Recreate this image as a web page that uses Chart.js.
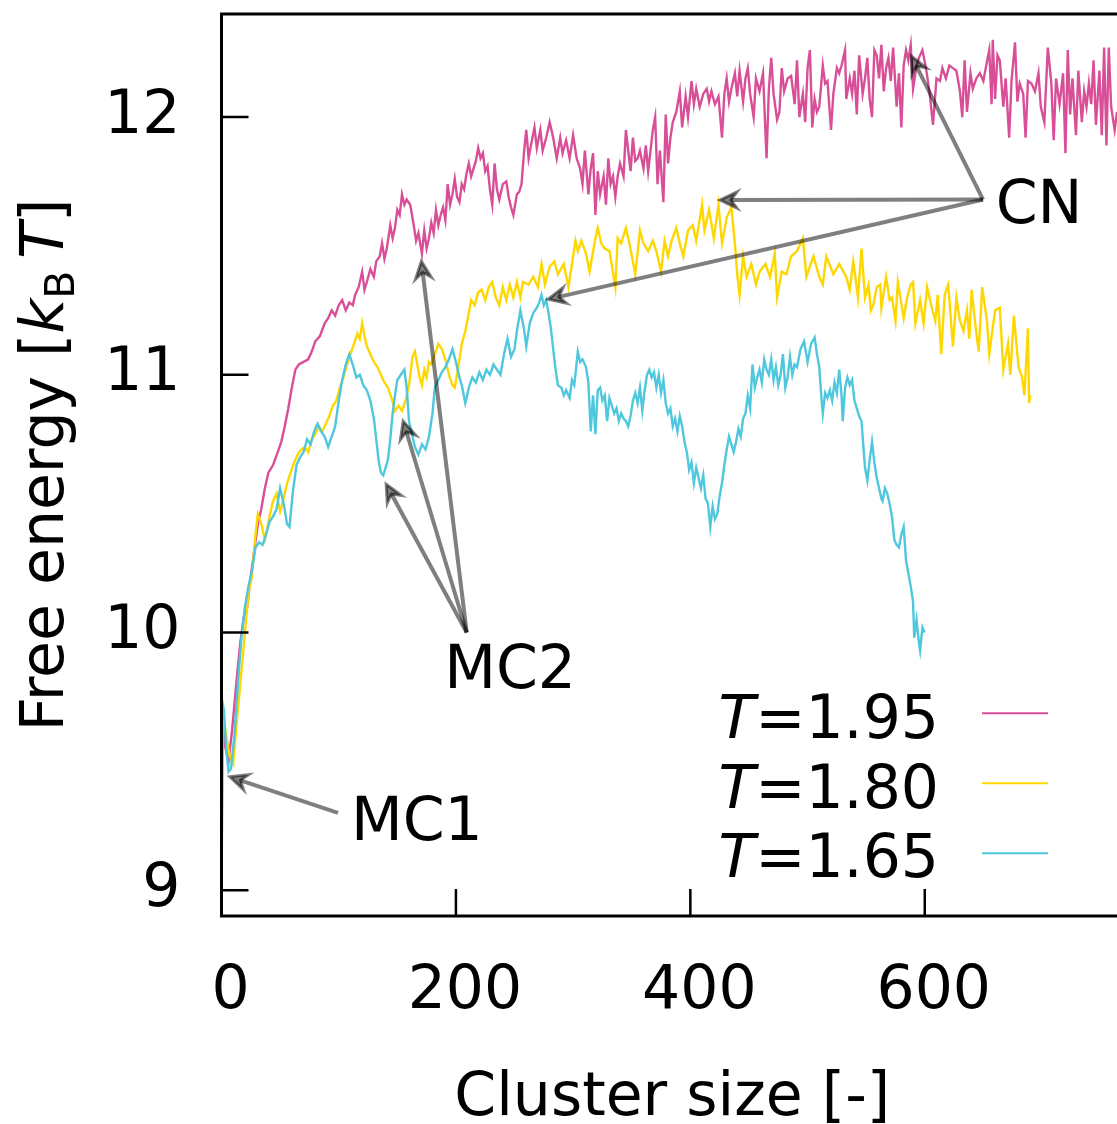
<!DOCTYPE html>
<html><head><meta charset="utf-8">
<script src="https://cdn.jsdelivr.net/npm/chart.js@4/dist/chart.umd.min.js"></script>
<style>html,body{margin:0;padding:0;background:#fff;}canvas{display:block;}</style>
</head><body>
<canvas id="c" width="1117" height="1124"></canvas>
<script>
// ---- data ----
const temperatures = ['1.95', '1.80', '1.65'];
const xTickValues = [0, 200, 400, 600];
const yTickValues = [9, 10, 11, 12];
const xTitle = 'Cluster size [-]';

const pinkX = [0,1,3,6,9,13,16,19,22,25,28,31,34,37,40,44,48,51,54,57,60,63,66,70,74,77,80,84,88,91,94,97,100,103,106,109,112,114,117,120,122,124,127,130,132,135,137,139,141,144,146,148,150,152,154,156,158,161,164,166,168,171,173,175,177,179,181,183,185,187,189,191,193,195,197,199,201,203,205,207,209,211,213,215,217,219,221,223,225,227,229,231,233,235,237,
240,243,245,247,249,252,254,256,258,260,262,264,267,269,272,274,277,280,283,286,289,291,294,297,300,303,306,308,310,313,315,317,319,321,323,326,328,330,332,334,336,338,340,343,345,347,349,351,353,355,357,360,362,364,366,368,370,372,374,377,379,381,383,385,388,391,393,396,398,401,403,405,408,411,414,416,418,421,424,427,429,431,433,435,438,440,442,445,447,449,451,454,456,459,462,465,467,469,471,474,
476,478,480,483,486,489,491,493,496,498,500,502,504,506,508,510,513,515,517,520,522,525,527,529,532,533,536,538,540,542,544,547,549,551,553,555,557,559,561,563,565,567,569,571,573,576,578,580,582,584,586,588,590,593,595,598,601,604,607,610,613,615,618,621,624,627,630,632,634,636,639,641,644,647,650,652,655,657,658,660,662,664,667,669,672,674,677,679,681,684,686,688,691,694,697,699,702,705,708,710,712,715,718,720,722,724,726,729,731,734,736,738,740,742,744,746,749,751,753,755,757,759,762,764];
const pinkY = [8.98,9.65,9.56,9.50,9.62,9.82,9.96,10.06,10.10,10.22,10.32,10.42,10.48,10.56,10.62,10.65,10.70,10.74,10.80,10.87,10.95,11.02,11.04,11.05,11.06,11.09,11.13,11.15,11.20,11.22,11.25,11.23,11.27,11.29,11.25,11.28,11.27,11.31,11.34,11.40,11.33,11.36,11.41,11.38,11.44,11.46,11.51,11.45,11.49,11.58,11.53,11.57,11.64,11.62,11.70,11.66,11.68,11.66,11.58,11.52,11.55,11.47,11.56,11.49,11.53,11.59,11.55,11.64,11.58,11.62,11.65,11.60,11.74,11.66,11.70,11.76,11.69,11.67,11.74,11.72,11.78,11.82,11.77,11.80,11.83,11.88,11.84,11.86,11.79,11.81,11.72,11.66,11.82,11.72,11.68,
11.74,11.75,11.69,11.65,11.62,11.70,11.71,11.74,11.86,11.95,11.84,11.89,11.96,11.88,11.95,11.87,11.92,11.98,11.92,11.84,11.92,11.86,11.91,11.84,11.93,11.84,11.80,11.74,11.87,11.70,11.80,11.86,11.62,11.79,11.70,11.77,11.66,11.84,11.74,11.77,11.69,11.77,11.82,11.77,11.95,11.87,11.79,11.92,11.83,11.84,11.87,11.80,11.89,11.79,11.87,11.95,12.00,11.74,11.87,11.67,12.01,11.82,11.92,11.98,12.02,12.10,11.96,12.08,12.00,12.14,12.05,12.11,12.04,12.09,12.11,12.06,12.10,12.05,12.08,11.92,12.09,12.15,12.06,12.11,12.17,12.08,12.18,12.06,12.15,12.19,12.09,12.00,12.15,12.10,12.17,11.84,12.11,12.23,12.09,11.99,
12.02,12.19,12.10,12.15,12.16,12.05,12.22,12.00,12.09,11.98,12.19,12.26,11.96,12.07,12.02,12.04,12.20,12.13,12.14,11.95,12.09,12.19,12.17,12.20,12.26,12.07,12.15,12.09,12.18,12.01,12.24,12.09,12.15,12.23,12.07,12.00,12.26,12.24,12.15,12.28,12.10,12.19,12.23,12.14,12.27,12.04,12.17,11.96,12.20,12.26,12.22,12.28,12.11,12.20,12.23,12.26,12.19,12.10,11.97,12.15,12.14,12.19,12.15,12.20,12.19,12.18,12.10,12.00,12.22,12.02,12.17,12.11,12.15,12.17,12.14,12.19,12.26,12.05,12.30,12.07,12.24,12.22,12.04,12.15,11.92,12.14,12.29,12.06,12.13,12.09,11.92,12.14,12.13,12.10,12.17,12.04,11.98,12.27,12.13,11.91,12.15,12.05,12.17,11.86,12.26,12.01,12.15,11.93,12.18,11.98,12.10,12.04,12.13,12.05,12.22,11.97,12.18,11.93,12.27,11.89,12.27,12.04,11.95,12.02];

const yellowX = [0,1,4,7,10,13,17,20,23,26,29,31,34,37,41,44,47,50,53,56,59,62,65,68,71,74,77,80,83,86,89,92,95,98,101,104,107,110,113,116,118,120,122,124,127,130,133,136,139,142,145,148,151,154,157,160,163,165,167,169,171,173,175,177,179,182,185,188,191,194,197,199,202,205,208,211,213,216,219,222,225,228,231,234,237,
240,243,246,249,252,255,257,262,266,270,273,276,280,284,287,292,296,299,302,304,307,311,314,319,321,324,327,331,336,338,341,345,348,353,357,360,364,368,371,375,378,381,384,388,391,394,398,402,405,410,412,416,420,424,427,431,435,438,440,442,445,448,452,456,459,464,468,472,474,478,482,486,491,496,499,505,510,513,516,522,527,533,536,539,543,546,549,552,554,556,559,562,563,567,570,572,575,577,582,585,588,590,592,596,599,602,606,609,611,614,617,620,624,627,630,633,636,638,640,643,646,649,653,655,660,664,667,671,673,676,680,683,685,688,689,690];
const yellowY = [9.15,9.70,9.60,9.52,9.49,9.65,9.85,10.00,10.15,10.22,10.38,10.46,10.42,10.36,10.45,10.51,10.54,10.47,10.52,10.58,10.62,10.66,10.69,10.71,10.72,10.70,10.75,10.77,10.80,10.78,10.81,10.84,10.88,10.90,10.95,10.99,11.04,11.08,11.12,11.16,11.14,11.20,11.15,11.11,11.08,11.05,11.03,11.00,10.97,10.95,10.91,10.86,10.88,10.86,10.90,10.96,11.07,11.09,11.04,10.99,10.96,11.02,10.99,11.05,11.04,11.08,11.12,11.10,11.06,11.00,10.96,10.95,11.03,11.12,11.17,11.24,11.29,11.27,11.32,11.33,11.29,11.34,11.36,11.30,11.27,
11.34,11.29,11.35,11.30,11.36,11.30,11.36,11.35,11.38,11.34,11.43,11.35,11.42,11.44,11.39,11.43,11.34,11.43,11.52,11.48,11.52,11.47,11.40,11.53,11.57,11.51,11.49,11.48,11.34,11.53,11.51,11.57,11.51,11.39,11.56,11.51,11.48,11.52,11.48,11.40,11.52,11.46,11.52,11.57,11.51,11.46,11.56,11.58,11.52,11.66,11.56,11.64,11.53,11.66,11.51,11.61,11.65,11.51,11.39,11.31,11.46,11.38,11.43,11.35,11.40,11.43,11.38,11.47,11.30,11.40,11.39,11.46,11.48,11.53,11.38,11.46,11.38,11.35,11.46,11.39,11.43,11.38,11.33,11.44,11.30,11.49,11.30,11.35,11.25,11.27,11.34,11.35,11.26,11.38,11.29,11.30,11.21,11.36,11.22,11.30,11.35,11.36,11.20,11.29,11.20,11.34,11.26,11.21,11.31,11.08,11.31,11.35,11.11,11.30,11.21,11.17,11.25,11.14,11.33,11.20,11.09,11.34,11.21,11.08,11.25,11.26,11.02,11.12,11.00,11.23,11.03,10.99,10.92,11.18,10.89,10.92];

const cyanX = [0,2,4,6,8,11,14,17,20,23,26,29,32,35,38,41,44,47,50,53,56,58,61,64,67,70,73,76,79,82,85,88,91,94,97,100,103,106,109,112,115,118,121,124,127,130,132,134,136,138,140,142,144,146,148,150,153,156,158,160,162,165,168,171,174,177,180,182,185,188,191,194,197,200,203,205,208,211,214,217,220,223,226,229,232,235,238,241,244,247,250,252,255,258,260,263,266,269,271,273,275,277,279,281,283,285,287,290,292,294,297,299,301,304,306,308,311,313,315,317,319,321,323,325,327,329,331,333,335,337,339,341,343,345,347,349,351,353,355,357,359,361,363,365,367,369,371,373,375,377,379,381,383,385,387,389,391,393,395,397,399,401,403,405,407,409,411,413,415,417,419,421,423,425,427,429,431,433,435,437,439,441,443,445,447,449,451,453,455,457,459,461,463,465,467,469,471,473,475,477,479,481,483,485,487,489,491,494,497,500,503,506,508,510,512,513,515,517,519,521,523,525,527,529,530,532,534,536,538,540,542,544,546,548,549,551,553,555,557,559,561,563,564,566,568,570,572,574,576,578,580,582,584,586,588,590,591,593,595,596,598,600];
const cyanY = [9.75,9.70,9.55,9.46,9.47,9.60,9.80,9.98,10.10,10.18,10.24,10.33,10.35,10.34,10.38,10.43,10.45,10.48,10.56,10.50,10.42,10.41,10.55,10.65,10.68,10.70,10.75,10.73,10.78,10.81,10.78,10.76,10.72,10.76,10.80,10.90,10.98,11.04,11.08,11.04,10.99,11.00,10.96,10.94,10.90,10.83,10.75,10.67,10.62,10.61,10.64,10.67,10.75,10.85,10.92,10.98,11.00,11.02,10.95,10.82,10.78,10.72,10.69,10.73,10.71,10.76,10.85,10.95,10.98,11.01,11.03,11.06,11.10,11.05,10.99,10.96,10.89,10.95,10.99,10.97,11.01,10.98,11.02,11.00,11.04,11.02,11.00,11.08,11.14,11.07,11.10,11.17,11.25,11.18,11.11,11.20,11.24,11.26,11.28,11.31,11.27,11.29,11.24,11.18,11.10,11.02,10.96,10.95,10.92,10.94,10.91,10.98,10.96,11.09,11.05,11.06,11.03,10.97,10.78,10.92,10.77,10.94,10.95,10.90,10.92,10.82,10.91,10.88,10.85,10.87,10.82,10.85,10.83,10.82,10.80,10.84,10.90,10.93,10.89,10.95,10.86,10.94,11.00,11.02,10.99,11.01,10.95,11.00,10.93,10.98,10.89,10.85,10.87,10.80,10.83,10.78,10.84,10.80,10.74,10.70,10.63,10.66,10.58,10.64,10.60,10.56,10.61,10.52,10.50,10.41,10.49,10.44,10.46,10.53,10.58,10.65,10.71,10.76,10.73,10.70,10.74,10.79,10.76,10.83,10.85,10.92,10.87,11.04,10.95,10.99,11.02,10.97,11.06,11.02,11.00,11.06,10.98,11.03,10.96,11.00,11.08,10.95,10.99,11.07,11.00,11.04,11.03,11.10,11.13,11.05,11.12,11.145,11.08,11.03,10.90,10.85,10.93,10.91,10.94,10.90,10.97,10.93,11.02,10.92,10.82,10.95,10.99,10.96,10.98,10.90,10.87,10.84,10.82,10.70,10.64,10.59,10.67,10.74,10.66,10.60,10.56,10.52,10.51,10.56,10.54,10.50,10.45,10.36,10.34,10.33,10.38,10.41,10.28,10.23,10.18,10.12,9.98,10.05,9.96,9.93,10.02,10.00];

// annotation arrows (data coordinates): label, text anchor, arrow tails -> heads
const annotations = [
  { text: 'MC1', at: [110.4, 9.194], tail: [99.4, 9.30], heads: [[7.2, 9.44]] },
  { text: 'MC2', at: [190.0, 9.783], tail: [209.2, 10.0], heads: [[140.5, 10.575], [155, 10.82], [170.5, 11.44]] },
  { text: 'CN',  at: [660.5, 11.59], tail: [649.7, 11.68], heads: [[588.7, 12.236], [425.2, 11.678], [278.7, 11.293]] }
];

// ---- styles ----
const FONT = '"DejaVu Sans", "Liberation Sans", sans-serif';
const FS = 60;
const colors = ['#d84f98', '#ffd700', '#4fc7dc'];

function zip(xs, ys) { return xs.map((x, i) => ({ x: x, y: ys[i] })); }

const framePlugin = {
  id: 'framePlugin',
  afterDatasetsDraw(chart) {
    const { ctx, chartArea: a, scales } = chart;
    const xs = scales.x, ys = scales.y;
    ctx.save();
    // inward ticks
    ctx.strokeStyle = '#000';
    ctx.lineWidth = 2.5;
    ctx.beginPath();
    yTickValues.forEach(v => { const p = ys.getPixelForValue(v); ctx.moveTo(a.left, p); ctx.lineTo(a.left + 27, p); });
    xTickValues.forEach(v => { const p = xs.getPixelForValue(v); ctx.moveTo(p, a.bottom); ctx.lineTo(p, a.bottom - 27); });
    ctx.stroke();
    // border
    ctx.lineWidth = 3;
    ctx.beginPath();
    ctx.moveTo(a.right + 5, a.top);
    ctx.lineTo(a.left, a.top);
    ctx.lineTo(a.left, a.bottom);
    ctx.lineTo(a.right + 5, a.bottom);
    ctx.stroke();

    // arrows
    const gray = 'rgba(0,0,0,0.5)';
    annotations.forEach(an => {
      const tx = xs.getPixelForValue(an.tail[0]), ty = ys.getPixelForValue(an.tail[1]);
      an.heads.forEach(h => {
        const hx = xs.getPixelForValue(h[0]), hy = ys.getPixelForValue(h[1]);
        const ang = Math.atan2(hy - ty, hx - tx);
        const L = 17, W = 8, notch = 11;
        const ux = Math.cos(ang), uy = Math.sin(ang);
        const bx = hx - ux * notch, by = hy - uy * notch;
        ctx.strokeStyle = gray; ctx.lineWidth = 4; ctx.lineCap = 'butt';
        ctx.beginPath(); ctx.moveTo(tx, ty); ctx.lineTo(bx, by); ctx.stroke();
        const cx = hx - ux * L, cy = hy - uy * L;
        ctx.beginPath();
        ctx.moveTo(hx, hy);
        ctx.lineTo(cx - uy * W, cy + ux * W);
        ctx.lineTo(bx, by);
        ctx.lineTo(cx + uy * W, cy - ux * W);
        ctx.closePath();
        ctx.fillStyle = gray; ctx.fill();
        ctx.lineWidth = 3; ctx.lineJoin = 'miter'; ctx.stroke();
      });
      ctx.fillStyle = '#000';
      ctx.font = FS + 'px ' + FONT;
      ctx.textAlign = 'left'; ctx.textBaseline = 'alphabetic';
      ctx.fillText(an.text, xs.getPixelForValue(an.at[0]), ys.getPixelForValue(an.at[1]));
    });

    // legend (text then line sample)
    chart.data.datasets.forEach((ds, i) => {
      const base = 738 + i * 69.5;
      const ly = 713.3 + i * 70;
      ctx.font = 'italic ' + FS + 'px ' + FONT;
      const wT = ctx.measureText('T').width;
      ctx.font = FS + 'px ' + FONT;
      const rest = '=' + temperatures[i];
      const wR = ctx.measureText(rest).width;
      const x0 = 939 - wT - wR;
      ctx.fillStyle = '#000'; ctx.textAlign = 'left'; ctx.textBaseline = 'alphabetic';
      ctx.font = 'italic ' + FS + 'px ' + FONT;
      ctx.fillText('T', x0, base);
      ctx.font = FS + 'px ' + FONT;
      ctx.fillText(rest, x0 + wT, base);
      ctx.strokeStyle = ds.borderColor; ctx.lineWidth = 2;
      ctx.beginPath(); ctx.moveTo(982, ly); ctx.lineTo(1048, ly); ctx.stroke();
    });

    // x axis title
    ctx.fillStyle = '#000';
    ctx.font = FS + 'px ' + FONT;
    ctx.textAlign = 'center'; ctx.textBaseline = 'alphabetic';
    ctx.fillText(xTitle, (a.left + a.right) / 2 + 3, 1115);

    // y axis title with italic k, subscript B, italic T
    const parts = [
      { t: 'Free energy [', f: FS + 'px ' + FONT, dy: 0 },
      { t: 'k', f: 'italic ' + FS + 'px ' + FONT, dy: 0 },
      { t: 'B', f: '41px ' + FONT, dy: 11 },
      { t: '\u2009', f: FS + 'px ' + FONT, dy: 0 },
      { t: 'T', f: 'italic ' + FS + 'px ' + FONT, dy: 0 },
      { t: ']', f: FS + 'px ' + FONT, dy: 0 }
    ];
    let total = 0;
    parts.forEach(p => { ctx.font = p.f; p.w = ctx.measureText(p.t).width; total += p.w; });
    ctx.translate(63, 465);
    ctx.rotate(-Math.PI / 2);
    ctx.textAlign = 'left';
    let cx = -total / 2;
    parts.forEach(p => { ctx.font = p.f; ctx.fillText(p.t, cx, p.dy); cx += p.w; });
    ctx.restore();
  }
};

const fixedAxis = (size, horizontal) => (scale) => {
  if (horizontal) scale.height = size; else scale.width = size;
  scale.paddingTop = 0; scale.paddingBottom = 0; scale.paddingLeft = 0; scale.paddingRight = 0;
};

new Chart(document.getElementById('c'), {
  type: 'line',
  data: {
    datasets: [
      { label: 'T=' + temperatures[0], data: zip(pinkX, pinkY), borderColor: colors[0], order: 3 },
      { label: 'T=' + temperatures[1], data: zip(yellowX, yellowY), borderColor: colors[1], order: 2 },
      { label: 'T=' + temperatures[2], data: zip(cyanX, cyanY), borderColor: colors[2], order: 1 }
    ]
  },
  options: {
    responsive: false,
    devicePixelRatio: 1,
    animation: false,
    parsing: false,
    normalized: true,
    layout: { padding: { top: 14, right: 0, bottom: 0, left: 0 } },
    elements: { point: { radius: 0 }, line: { borderWidth: 2.4, tension: 0, fill: false } },
    plugins: { legend: { display: false }, tooltip: { enabled: false } },
    scales: {
      x: {
        type: 'linear', min: 0, max: 764,
        afterBuildTicks: s => { s.ticks = xTickValues.map(v => ({ value: v })); },
        afterFit: fixedAxis(208, true),
        grid: { display: false, drawTicks: false },
        border: { display: false },
        ticks: { color: '#000', font: { family: FONT, size: FS }, padding: 40, labelOffset: 9, maxRotation: 0, autoSkip: false }
      },
      y: {
        type: 'linear', min: 8.9, max: 12.4,
        afterBuildTicks: s => { s.ticks = yTickValues.map(v => ({ value: v })); },
        afterFit: fixedAxis(221.5, false),
        grid: { display: false, drawTicks: false },
        border: { display: false },
        ticks: { color: '#000', font: { family: FONT, size: FS }, padding: 41, autoSkip: false }
      }
    }
  },
  plugins: [framePlugin]
});
</script>
</body></html>
